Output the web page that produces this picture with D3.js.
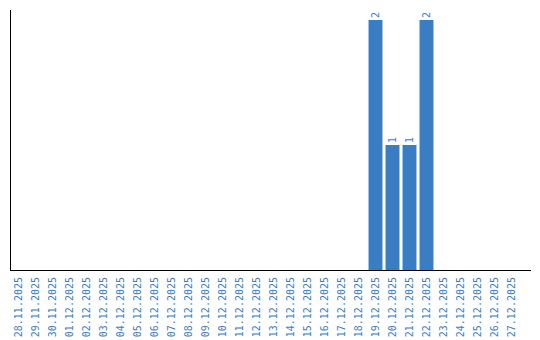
<!DOCTYPE html>
<html>
<head>
<meta charset="utf-8">
<script src="https://cdn.jsdelivr.net/npm/d3@7"></script>
<style>
    body { margin: 0; background: #fff; }
    svg { display: block; }
</style>
</head>
<body>
<div id="chart"></div>
<script>
const dates = ["28.11.2025", "29.11.2025", "30.11.2025", "01.12.2025", "02.12.2025", "03.12.2025",
    "04.12.2025", "05.12.2025", "06.12.2025", "07.12.2025", "08.12.2025", "09.12.2025",
    "10.12.2025", "11.12.2025", "12.12.2025", "13.12.2025", "14.12.2025", "15.12.2025",
    "16.12.2025", "17.12.2025", "18.12.2025", "19.12.2025", "20.12.2025", "21.12.2025",
    "22.12.2025", "23.12.2025", "24.12.2025", "25.12.2025", "26.12.2025", "27.12.2025"];
const counts = [0, 0, 0, 0, 0, 0, 0, 0, 0, 0, 0, 0, 0, 0, 0, 0, 0, 0, 0, 0, 0,
    2, 1, 1, 2, 0, 0, 0, 0, 0];

const width = 540, height = 340;
const blue = "#3a7dc3";

const svg = d3.select("#chart").append("svg")
    .attr("width", width)
    .attr("height", height);

const x = d3.scaleBand()
    .domain(dates)
    .range([10, 520])
    .paddingInner(0.18)
    .paddingOuter(0.09);

const y = d3.scaleLinear()
    .domain([0, 2])
    .range([270, 20]);

const data = dates.map((d, i) => ({ date: d, value: counts[i] }));

// bars
svg.append("g")
    .selectAll("rect")
    .data(data.filter(d => d.value > 0))
    .join("rect")
    .attr("x", d => x(d.date))
    .attr("y", d => y(d.value))
    .attr("width", x.bandwidth())
    .attr("height", d => y(0) - y(d.value))
    .attr("fill", blue);

// value labels
svg.append("g")
    .selectAll("text")
    .data(data.filter(d => d.value > 0))
    .join("text")
    .attr("transform", d => `translate(${x(d.date) + x.bandwidth() / 2 + 3.5},${y(d.value) - 2}) rotate(-90)`)
    .attr("font-family", "DejaVu Sans Mono, monospace")
    .attr("font-size", 10)
    .attr("fill", blue)
    .text(d => d.value);

// x axis labels
svg.append("g")
    .selectAll("text")
    .data(dates)
    .join("text")
    .attr("transform", d => `translate(${x(d) + x.bandwidth() / 2 + 3.5},277) rotate(-90)`)
    .attr("text-anchor", "end")
    .attr("font-family", "DejaVu Sans Mono, monospace")
    .attr("font-size", 10)
    .attr("fill", blue)
    .text(d => d);

// axis lines
svg.append("line")
    .attr("x1", 10.5).attr("x2", 10.5)
    .attr("y1", 10).attr("y2", 270)
    .attr("stroke", "#000");
svg.append("line")
    .attr("x1", 10).attr("x2", 531)
    .attr("y1", 270.5).attr("y2", 270.5)
    .attr("stroke", "#000");
</script>
</body>
</html>
